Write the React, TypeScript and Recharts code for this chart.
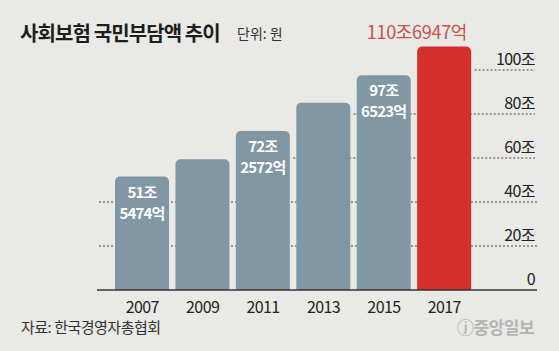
import React from 'react';
import { BarChart, Bar, XAxis, YAxis, ReferenceLine, LabelList, Cell } from 'recharts';

const years = ['2007', '2009', '2011', '2013', '2015', '2017'];
const values = [51.5474, 59.4, 72.2572, 85.1, 97.6523, 110.6947];
const trillionLabels = ['51조', '', '72조', '', '97조', ''];
const billionLabels = ['5474억', '', '2572억', '', '6523억', ''];
const highlightLabels = ['', '', '', '', '', '110조6947억'];
const yTicks = [0, 20, 40, 60, 80, 100];
const yTickLabels = ['0', '20조', '40조', '60조', '80조', '100조'];
const titleText = '사회보험 국민부담액 추이';
const unitText = '단위: 원';
const sourceText = '자료: 한국경영자총협회';
const logoText = 'ⓙ중앙일보';

const SPACER = ' ';
const FONT = '"Noto Sans CJK KR", "Noto Sans", sans-serif';
const BAR = '#8197a4';
const RED = '#d3302b';

const data = [
  ...years.map((y, i) => ({
    year: y,
    value: values[i],
    tr: trillionLabels[i],
    bn: billionLabels[i],
    hl: highlightLabels[i],
  })),
  { year: SPACER, value: null, tr: '', bn: '', hl: '' },
];

const getBox = (p: any) => {
  const vb = p.viewBox || {};
  return {
    x: Number(p.x ?? vb.x),
    y: Number(p.y ?? vb.y),
    width: Number(p.width ?? vb.width),
  };
};

const InsideLabel = (p: any) => {
  const i = p.index;
  if (i == null || !data[i] || !data[i].tr) return null;
  const { x, y, width } = getBox(p);
  const cx = x + width / 2;
  return (
    <g>
      <text x={cx} y={y + 21} textAnchor="middle" fill="#ffffff" fontFamily={FONT} fontWeight={700} fontSize={15} letterSpacing={-0.8}>
        {data[i].tr}
      </text>
      <text x={cx} y={y + 42} textAnchor="middle" fill="#ffffff" fontFamily={FONT} fontWeight={700} fontSize={15} letterSpacing={-0.8}>
        {data[i].bn}
      </text>
    </g>
  );
};

const TopLabel = (p: any) => {
  const i = p.index;
  if (i == null || !data[i] || !data[i].hl) return null;
  const { x, y, width } = getBox(p);
  return (
    <text x={x + width - 4} y={y - 7} textAnchor="end" fill="#c9504b" fontFamily={FONT} fontWeight={400} fontSize={18} letterSpacing={-0.3}>
      {data[i].hl}
    </text>
  );
};

const YTick = (p: any) => {
  const v = Number(p?.payload?.value);
  const idx = yTicks.indexOf(v);
  const x = Number(p.x);
  const y = Number(p.y);
  return (
    <text x={x - 2} y={y - 5} textAnchor="end" fill="#222" fontFamily={FONT} fontSize={16} letterSpacing={-0.6}>
      {idx >= 0 ? yTickLabels[idx] : ''}
    </text>
  );
};

const gridLines = yTicks.slice(1).map((t) => {
  const first = values.findIndex((v) => v > t);
  return { t, first };
});

export default function App() {
  return (
    <div style={{ position: 'absolute', left: 0, top: 0, width: 559, height: 351, background: '#e9e9e5', fontFamily: FONT, overflow: 'hidden' }}>
      <div style={{ position: 'absolute', left: 20, top: 20, lineHeight: '26px', fontSize: 20, fontWeight: 700, color: '#1e1e1e', letterSpacing: -0.9, whiteSpace: 'nowrap' }}>
        {titleText}
      </div>
      <div style={{ position: 'absolute', left: 237, top: 23, lineHeight: '20px', fontSize: 14, color: '#333', whiteSpace: 'nowrap' }}>
        {unitText}
      </div>
      <BarChart width={559} height={351} data={data} margin={{ top: 26, right: 2, left: 97, bottom: 31 }}>
        {gridLines.map(({ t, first }) =>
          first <= 0 ? (
            <ReferenceLine key={t} y={t} stroke="#444" strokeDasharray="2 2" strokeWidth={1} zIndex={-100} />
          ) : (
            <ReferenceLine
              key={t}
              position="end"
              segment={[{ x: years[first], y: t }, { x: SPACER, y: t }]}
              stroke="#444"
              strokeDasharray="2 2"
              strokeWidth={1}
              zIndex={-100}
            />
          )
        )}
        <XAxis
          dataKey="year"
          height={30}
          padding={{ left: 15, right: 2 }}
          axisLine={{ stroke: '#333', strokeWidth: 1.5 }}
          tickLine={false}
          tickMargin={6}
          tick={{ fill: '#222', fontSize: 16, fontFamily: FONT, letterSpacing: -0.6 }}
          interval={0}
        />
        <YAxis
          orientation="right"
          width={20}
          domain={[0, 120]}
          ticks={yTicks}
          axisLine={false}
          tickLine={false}
          tickSize={0}
          tickMargin={0}
          tick={YTick}
        />
        <Bar dataKey="value" barSize={54} radius={[5, 5, 0, 0]} isAnimationActive={false}>
          {data.map((d, i) => (
            <Cell key={i} fill={d.year === '2017' ? RED : BAR} />
          ))}
          <LabelList dataKey="tr" content={<InsideLabel />} />
          <LabelList dataKey="hl" content={<TopLabel />} />
        </Bar>
      </BarChart>
      <div style={{ position: 'absolute', left: 21, top: 317, lineHeight: '20px', fontSize: 15, color: '#333', letterSpacing: -0.5, whiteSpace: 'nowrap' }}>
        {sourceText}
      </div>
      <div style={{ position: 'absolute', left: 457, top: 316, lineHeight: '22px', fontSize: 17, fontWeight: 700, color: '#b4b4b4', letterSpacing: -0.5, whiteSpace: 'nowrap' }}>
        {logoText}
      </div>
    </div>
  );
}
